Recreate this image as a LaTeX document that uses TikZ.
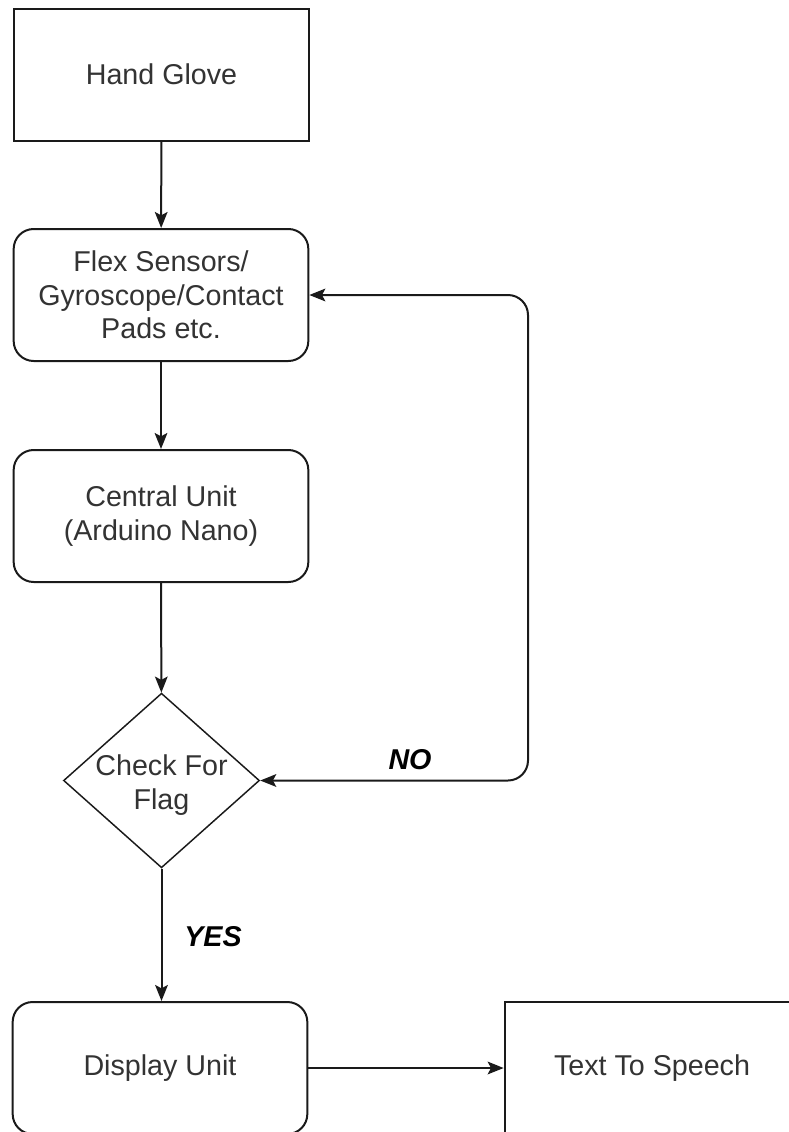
\documentclass[tikz,border=0pt]{standalone}
\usepackage{fontspec}
\setmainfont{Liberation Sans}
\usetikzlibrary{shapes.geometric,arrows.meta}
\definecolor{txtgray}{HTML}{333333}
\definecolor{linec}{HTML}{1A1A1A}
\tikzset{
  every node/.style={font=\fontsize{21.5pt}{25pt}\selectfont, text=txtgray, align=center},
  sqbox/.style={draw=linec, line width=1.5pt, rectangle, minimum width=221pt, minimum height=99pt, inner sep=0pt},
  rbox/.style={sqbox, rounded corners=15pt},
  decide/.style={draw=linec, line width=1.1pt, diamond, minimum width=147pt, minimum height=131pt, inner sep=0pt},
  arr/.style={draw=linec, line width=1.5pt, -{Stealth[length=12pt,width=9.5pt,inset=2.5pt]}},
  lbl/.style={font=\fontsize{21.5pt}{25pt}\selectfont\bfseries\itshape, text=black}
}
\begin{document}
\begin{tikzpicture}[x=0.75pt,y=-0.75pt]
\fill[white] (0,0) rectangle (789,1132);
\useasboundingbox (0,0) rectangle (789,1132);
\clip (0,0) rectangle (789,1132);
\node[sqbox] (glove) at (161.5,74.5) {Hand Glove};
\node[rbox] (flex) at (161,295) {Flex Sensors/\\Gyroscope/Contact\\Pads etc.};
\node[rbox] (central) at (161,516) {Central Unit\\(Arduino Nano)};
\node[decide] (flag) at (161.5,780.5) {};
\node (flagtxt) at (161.5,785) {Check For\\Flag};
\node[rbox] (display) at (160,1068) {Display Unit};
\node[sqbox] (tts) at (652,1068) {Text To Speech};
\coordinate (loop) at (528,780.5);
\draw[arr] (glove) -- (flex);
\draw[arr] (flex) -- (central);
\draw[arr] (central) -- (flag);
\draw[arr] (flag.south) -- (flag.south |- display.north);
\draw[arr] (display) -- (tts);
\draw[arr, {Stealth[length=12pt,width=9.5pt,inset=2.5pt]}-{Stealth[length=12pt,width=9.5pt,inset=2.5pt]}, rounded corners=15pt] (flag.east) -- (loop) |- (flex.east);
\node[lbl] (no) at (410,760) {NO};
\node[lbl] (yes) at (213,937) {YES};
\end{tikzpicture}
\end{document}
